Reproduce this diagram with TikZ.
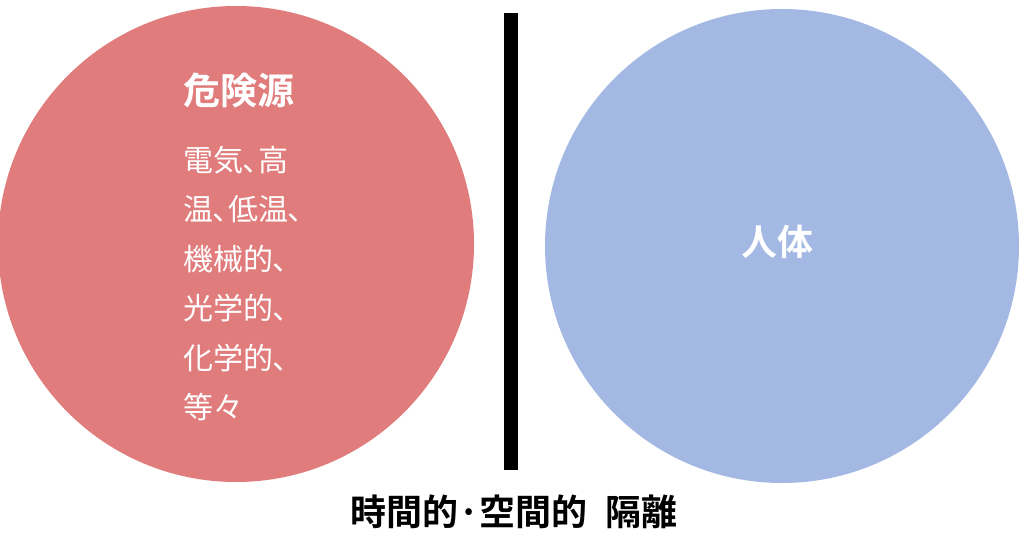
\documentclass[tikz,border=0pt]{standalone}
\usepackage{fontspec}
\setmainfont{Noto Sans CJK JP}[BoldFont={* Bold}]
\newfontfamily\propjp{Noto Sans CJK JP}[RawFeature=+palt]
\definecolor{hazard}{RGB}{224,124,124}
\definecolor{body}{RGB}{163,185,227}

\begin{document}
\begin{tikzpicture}[x=1pt,y=-1pt,
    label/.style={text=white,inner sep=0pt},
    item/.style={label,anchor=west,font=\propjp\fontsize{30}{30}\selectfont}]
    \useasboundingbox (0,0) rectangle (1024,540);

    % hazard source and human body
    \fill[hazard] (236,244) circle (238);
    \fill[body] (782,246) circle (237);

    % separation wall
    \fill[black] (504,13) rectangle (518,470);

    \node[label,font=\fontsize{37}{37}\selectfont\bfseries] (hazard) at (239,90) {危険源};
    \foreach \txt [count=\i] in {電気、高,温、低温、,機械的、,光学的、,化学的、,等々}
      \node[item] (item\i) at (183,{160+49.4*(\i-1)}) {\txt};

    \node[label,font=\fontsize{36}{36}\selectfont\bfseries] (human) at (777,242) {人体};

    \node[inner sep=0pt,font=\fontsize{36}{36}\selectfont\bfseries] (caption) at (514,512)
      {時間的·空間的\hspace{0.5em}隔離};

  \end{tikzpicture}
\end{document}
